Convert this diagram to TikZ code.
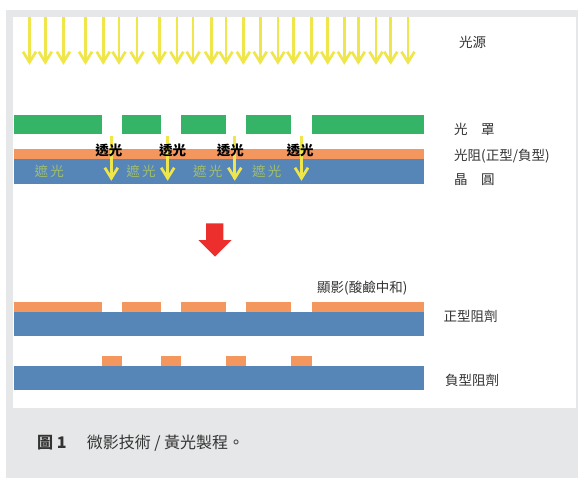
\documentclass[tikz,border=0pt]{standalone}
\usepackage{fontspec}
\setmainfont{Noto Sans CJK TC}
\definecolor{ray}{HTML}{EEE64A}
\definecolor{maskg}{HTML}{35B467}
\definecolor{resist}{HTML}{F3975F}
\definecolor{wafer}{HTML}{5686B8}
\definecolor{shade}{HTML}{A2BE6C}
\definecolor{redarr}{HTML}{EC2F2C}
\definecolor{frame}{HTML}{E6E7E8}
\definecolor{txt}{HTML}{333333}
\newcommand\ylarrow[3]{%
  \draw[rayline] (#1,#2) -- (#1,#3-3);
  \draw[rayline] (#1-6.5,#3-14) -- (#1,#3-3.5) -- (#1+6.5,#3-14);}
\begin{document}
\begin{tikzpicture}[x=1pt,y=-1pt,
  rayline/.style={draw=ray,line width=2.7pt,line join=miter,line cap=butt},
  lbl/.style={text=txt,font=\fontsize{13.5}{16}\selectfont,inner sep=0pt,anchor=west},
  pass/.style={text=black,font=\fontsize{13.5}{16}\selectfont\bfseries,inner sep=0pt},
  dark/.style={text=shade,font=\fontsize{13.5}{16}\selectfont,inner sep=0pt},
  maskbox/.style={fill=maskg},
  resbox/.style={fill=resist},
  wafbox/.style={fill=wafer}]
\useasboundingbox (0,0) rectangle (578,481);
% frame
\fill[frame] (5.5,10) rectangle (578,478);
\fill[white] (12.5,16.7) rectangle (576,408);
% light source arrows
\foreach \x in {29.5,45.3,63.4,85.5,103.2,119,137.1,159.2,176.9,193.1,211.6,226,243.3,260.2,277.9,293.8,311.5,327.7,344.3,358.3,376,390.7,408}
  {\ylarrow{\x}{17}{65.7}}
\node[lbl] (src) at (459,42.3) {光源};
% mask
\foreach \a/\b in {13.6/102.1,122/161,181.3/225.6,245.9/290.8,311.5/424}
  \fill[maskbox] (\a,115) rectangle (\b,134);
% resist + wafer
\fill[resbox] (13.6,149) rectangle (424,159.3);
\fill[wafbox] (13.6,159.3) rectangle (424,184);
\node[lbl] (lmask) at (454,129.3) {光　罩};
\node[lbl] (lres) at (454,155.7) {光阻(正型/負型)};
\node[lbl] (lwaf) at (454,180) {晶　圓};
% shaded labels
\foreach \x/\n in {49.2/1,141/2,207.7/3,266.7/4}
  \node[dark] (sh\n) at (\x,171.7) {遮\,光};
% transmitted arrows
\foreach \x in {111.3,167.7,234.8,301.5}
  {\ylarrow{\x}{136}{181.7}}
% transmitted labels
\foreach \x/\n in {108.9/1,172.7/2,230.4/3,300/4}
  \node[pass] (tr\n) at (\x,150) {透光};
% red arrow
\fill[redarr] (206,223.3) -- (223.3,223.3) -- (223.3,240) -- (231.7,240) -- (215,256.7) -- (198.3,240) -- (206,240) -- cycle;
% develop
\node[lbl] (dev) at (317,288.3) {顯影(酸鹼中和)};
\foreach \a/\b in {13.6/102.1,122/161,181.3/225.6,245.9/290.8,311.5/424}
  \fill[resbox] (\a,301.7) rectangle (\b,311.7);
\fill[wafbox] (13.6,311.7) rectangle (424,336);
\node[lbl] (pos) at (443.5,316.7) {正型阻劑};
% negative
\foreach \a/\b in {102.1/122,161/181.3,225.6/245.9,290.8/311.5}
  \fill[resbox] (\a,355.7) rectangle (\b,365.7);
\fill[wafbox] (13.6,365.7) rectangle (424,390);
\node[lbl] (neg) at (445,380) {負型阻劑};
% caption
\node[lbl,font=\fontsize{16}{18}\selectfont\bfseries,text=txt] (fig) at (36.9,443) {圖 1};
\node[lbl,font=\fontsize{16}{18}\selectfont,text=txt] (cap) at (86.6,443) {微影技術 / 黃光製程。};
\end{tikzpicture}
\end{document}
